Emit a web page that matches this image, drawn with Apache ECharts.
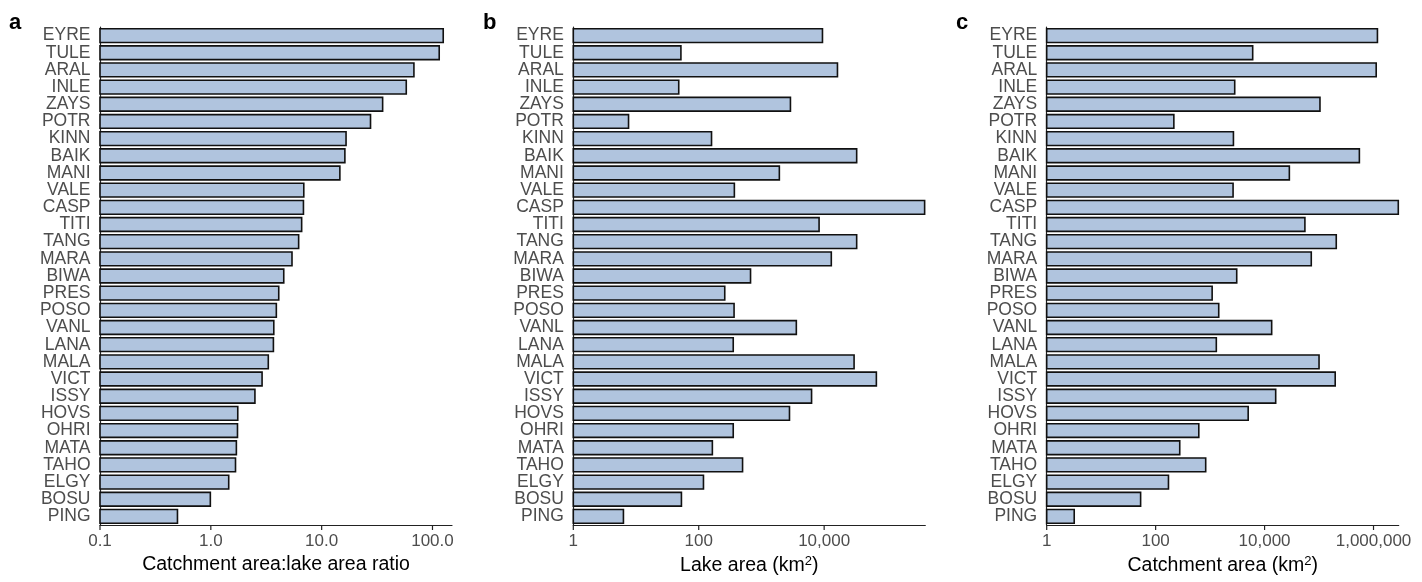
<!DOCTYPE html>
<html><head><meta charset="utf-8">
<script src="https://cdn.jsdelivr.net/npm/echarts@6/dist/echarts.min.js"></script>
<style>html,body{margin:0;padding:0;background:#fff}#c{width:1422px;height:582px}</style>
</head><body><div id="c"></div>
<script>
const lakes = ['EYRE','TULE','ARAL','INLE','ZAYS','POTR','KINN','BAIK','MANI','VALE','CASP','TITI','TANG','MARA','BIWA','PRES','POSO','VANL','LANA','MALA','VICT','ISSY','HOVS','OHRI','MATA','TAHO','ELGY','BOSU','PING'];
const ratio = [125,115,68,58,35.5,27.6,16.6,16.2,14.6,6.9,6.85,6.6,6.2,5.4,4.55,4.1,3.9,3.7,3.67,3.3,2.9,2.5,1.75,1.74,1.70,1.67,1.45,0.99,0.50];
const lakeArea = [9400,52,16300,48,2900,7.6,160,33000,1930,370,400000,8300,33000,13000,670,260,366,3600,355,30000,68000,6300,2800,355,165,500,119,53,6.3];
const catchArea = [1180000,6050,1120000,2830,104000,216,2680,550000,28500,2640,2850000,55000,207000,72000,3080,1090,1440,13500,1300,100000,198000,16000,5000,620,277,830,172,53,3.2];
const tickValuesA = [0.1,1,10,100];
const tickLabelsA = ['0.1','1.0','10.0','100.0'];
const tickValuesB = [1,100,10000];
const tickLabelsB = ['1','100','10,000'];
const tickValuesC = [1,100,10000,1000000];
const tickLabelsC = ['1','100','10,000','1,000,000'];
const panelLetters = ['a','b','c'];
const axisNames = ['Catchment area:lake area ratio','Lake area (km{sup|2})','Catchment area (km{sup|2})'];

const FONT = 'Liberation Sans, Arial, sans-serif';
const panels = [
  {left:100, min:0.1, max:150, interval:1, data:ratio, tv:tickValuesA, tl:tickLabelsA, letterX:9},
  {left:573.3, min:1, max:410000, interval:2, data:lakeArea, tv:tickValuesB, tl:tickLabelsB, letterX:483},
  {left:1046.7, min:1, max:2900000, interval:2, data:catchArea, tv:tickValuesC, tl:tickLabelsC, letterX:956}
];

function makeFormatter(tv, tl){
  return function(v){
    for (let i=0;i<tv.length;i++){
      if (Math.abs(Math.log10(v) - Math.log10(tv[i])) < 1e-6) return tl[i];
    }
    return '';
  };
}

const grid=[], xAxis=[], yAxis=[], series=[], graphic=[];
panels.forEach((p,i)=>{
  grid.push({left:p.left, top:27, width:352, height:498, containLabel:false});
  xAxis.push({
    type:'log', logBase:10, gridIndex:i, min:p.min, max:p.max, interval:p.interval,
    axisLine:{show:true, lineStyle:{color:'#222', width:1.2}},
    axisTick:{show:false},
    splitLine:{show:false}, minorTick:{show:false},
    axisLabel:{color:'#4d4d4d', fontSize:17, fontFamily:FONT, margin:8, formatter:makeFormatter(p.tv,p.tl), showMinLabel:true, showMaxLabel:true},
    name:axisNames[i], nameLocation:'middle', nameGap:28,
    nameTextStyle:{color:'#000', fontSize:19.5, fontFamily:FONT,
      rich:{sup:{fontSize:13, color:'#000', fontFamily:FONT, padding:[0,0,9,0]}}}
  });
  yAxis.push({
    type:'category', gridIndex:i, data:lakes, inverse:true,
    axisLine:{show:true, lineStyle:{color:'#222', width:1.2}},
    axisTick:{show:false},
    axisLabel:{color:'#4d4d4d', fontSize:17.5, fontFamily:FONT, margin:9.5, interval:0}
  });
  const base = p.min;
  series.push({
    type:'custom', xAxisIndex:i, yAxisIndex:i,
    data:p.data.map((v,j)=>[v,j]),
    encode:{x:0, y:1},
    renderItem:function(params, api){
      const end = api.coord([api.value(0), api.value(1)]);
      const start = api.coord([base, api.value(1)]);
      const h = api.size([0,1])[1]*0.80;
      return {type:'rect', shape:{x:start[0], y:end[1]-h/2, width:end[0]-start[0], height:h},
        style:{fill:'#B0C4DE', stroke:'#111', lineWidth:1.6}};
    }
  });
  // x-axis tick marks at the labelled break values only
  series.push({
    type:'custom', xAxisIndex:i, yAxisIndex:i, silent:true, clip:false,
    data:p.tv.map(v=>[v,0]),
    encode:{x:0, y:1},
    renderItem:function(params, api){
      const pt = api.coord([api.value(0), 0]);
      const cs = params.coordSys;
      const yb = cs.y + cs.height;
      return {type:'line', shape:{x1:pt[0], y1:yb, x2:pt[0], y2:yb+5},
        style:{stroke:'#222', lineWidth:1.2}};
    }
  });
  graphic.push({type:'text', left:p.letterX, top:12, style:{text:panelLetters[i], font:'bold 22px '+FONT, fill:'#000'}});
});

const chart = echarts.init(document.getElementById('c'));
chart.setOption({animation:false, backgroundColor:'#fff', grid, xAxis, yAxis, series, graphic});
</script>
</body></html>
